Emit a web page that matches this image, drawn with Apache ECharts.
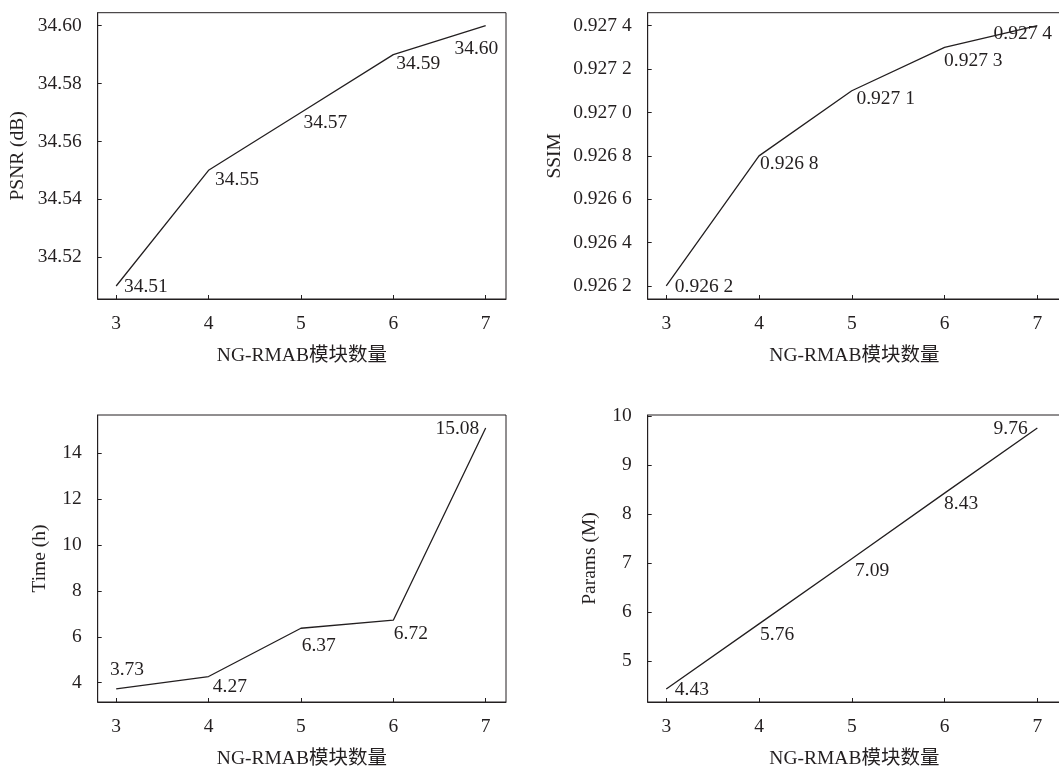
<!DOCTYPE html>
<html>
<head>
<meta charset="utf-8">
<script src="https://cdn.jsdelivr.net/npm/echarts@6/dist/echarts.min.js"></script>
<style>
html,body{margin:0;padding:0;background:#fff;overflow:hidden;}
#c{width:1059px;height:769px;}
</style>
</head>
<body>
<div id="c"></div>
<script>
// ---- data ----
var blocks = [3, 4, 5, 6, 7];
var psnr = [34.51, 34.55, 34.57, 34.59, 34.60];
var ssim = [0.9262, 0.9268, 0.9271, 0.9273, 0.9274];
var timeH = [3.73, 4.27, 6.37, 6.72, 15.08];
var params = [4.43, 5.76, 7.09, 8.43, 9.76];

var xTicks = [3, 4, 5, 6, 7];
var psnrTicks = [34.52, 34.54, 34.56, 34.58, 34.60];
var ssimTicks = [0.9262, 0.9264, 0.9266, 0.9268, 0.9270, 0.9272, 0.9274];
var timeTicks = [4, 6, 8, 10, 12, 14];
var paramTicks = [5, 6, 7, 8, 9, 10];

var xName = 'NG-RMAB模块数量';

// ---- label layout (offsets in px from each point) ----
var offs1 = [[7.3,1],[6,10],[2,10.6],[2.5,9.6],[-31.7,23.6]];
var offs2 = [[8,1],[0.5,8.4],[4.2,8],[-1,13.2],[-44.3,8.3]];
var offs3 = [[-6.7,-19.2],[3.8,10.5],[0.3,17.2],[0,13.6],[-50.7,0.8]];
var offs4 = [[8,1.2],[0.5,10.9],[2.8,12.4],[-1,10.9],[-44.3,1.3]];

var FONT = '"Liberation Serif","Times New Roman","Noto Sans CJK SC",serif';
var TXT = '#231f20';
var FS = 19.5;

function fmt2(v){ return Number(v).toFixed(2); }
function fmtSsim(v){ var s = Number(v).toFixed(4); return s.slice(0,5) + ' ' + s.slice(5); }
function fmtInt(v){ return String(Math.round(v)); }

function xAxis(gi, max){
  return {
    type:'value', gridIndex:gi, min:2.8, max:max,
    name:xName, nameLocation:'middle', nameGap:47,
    nameTextStyle:{fontFamily:FONT, fontSize:FS, color:TXT},
    axisLine:{show:true, lineStyle:{color:TXT, width:1}},
    axisTick:{show:true, inside:true, length:4, customValues:xTicks, lineStyle:{color:TXT}},
    axisLabel:{customValues:xTicks, margin:15, fontFamily:FONT, fontSize:FS, color:TXT, formatter:fmtInt},
    splitLine:{show:false}
  };
}
function yAxis(gi, min, max, ticks, fmt, name, gap){
  return {
    type:'value', gridIndex:gi, min:min, max:max,
    name:name, nameLocation:'middle', nameGap:gap,
    nameTextStyle:{fontFamily:FONT, fontSize:FS, color:TXT},
    axisLine:{show:true, lineStyle:{color:TXT, width:1}},
    axisTick:{show:true, inside:true, length:4, customValues:ticks, lineStyle:{color:TXT}},
    axisLabel:{customValues:ticks, margin:16, fontFamily:FONT, fontSize:FS, color:TXT, formatter:fmt},
    splitLine:{show:false}
  };
}
function series(gi, vals, offs, fmt){
  var data = blocks.map(function(b, i){
    return {
      value:[b, vals[i]],
      label:{show:true, position:'right', distance:0, offset:offs[i],
        fontFamily:FONT, fontSize:FS, color:TXT,
        formatter:function(){ return fmt(vals[i]); }}
    };
  });
  return {
    type:'line', xAxisIndex:gi, yAxisIndex:gi, data:data,
    symbol:'circle', symbolSize:1, showSymbol:true,
    itemStyle:{color:'rgba(0,0,0,0)'},
    lineStyle:{color:TXT, width:1.3},
    emphasis:{disabled:true}, silent:true, animation:false
  };
}

var gridStyle = {show:true, borderColor:TXT, borderWidth:1, backgroundColor:'transparent', containLabel:false, outerBoundsMode:'none'};
var chart = echarts.init(document.getElementById('c'), null, {renderer:'canvas'});
chart.setOption({
  backgroundColor:'#fff',
  animation:false,
  grid:[
    Object.assign({left:97.7, top:12.7, width:408.3, height:286.3}, gridStyle),
    Object.assign({left:647.7, top:12.7, width:413.3, height:286.3}, gridStyle),
    Object.assign({left:97.7, top:415, width:408.3, height:287}, gridStyle),
    Object.assign({left:647.7, top:415, width:413.3, height:287}, gridStyle)
  ],
  xAxis:[xAxis(0,7.22), xAxis(1,7.255), xAxis(2,7.22), xAxis(3,7.255)],
  yAxis:[
    yAxis(0, 34.5055, 34.6045, psnrTicks, fmt2, 'PSNR (dB)', 70),
    yAxis(1, 0.92614, 0.92746, ssimTicks, fmtSsim, 'SSIM', 83),
    yAxis(2, 3.1625, 15.6475, timeTicks, fmtInt, 'Time (h)', 48),
    yAxis(3, 4.1635, 10.0265, paramTicks, fmtInt, 'Params (M)', 48)
  ],
  series:[
    series(0, psnr, offs1, fmt2),
    series(1, ssim, offs2, fmtSsim),
    series(2, timeH, offs3, fmt2),
    series(3, params, offs4, fmt2)
  ]
});
</script>
</body>
</html>
